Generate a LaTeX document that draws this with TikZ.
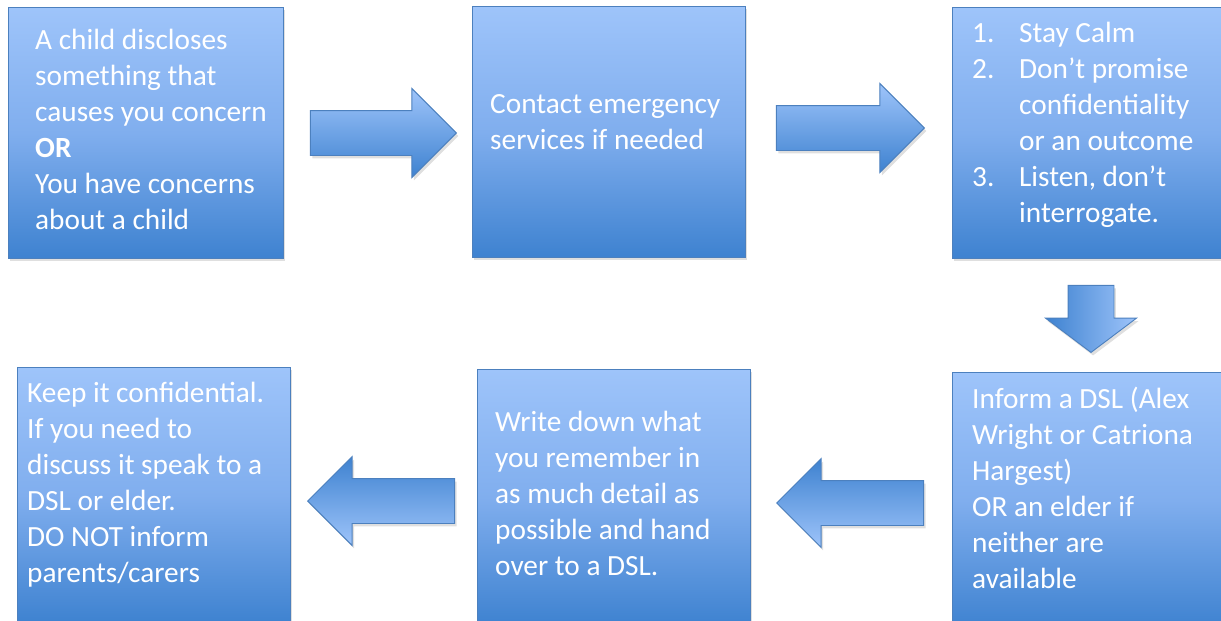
\documentclass[tikz,border=0pt]{standalone}
\usepackage{fontspec}
\setmainfont{Carlito}
\usetikzlibrary{shapes.arrows,shadows,positioning}

\definecolor{boxtop}{RGB}{158,196,250}
\definecolor{boxmid}{RGB}{128,174,238}
\definecolor{boxbot}{RGB}{62,130,208}
\definecolor{boxline}{RGB}{76,128,190}

\tikzset{
  stepbox/.style={draw=boxline, line width=0.9pt, anchor=north west,
    top color=boxtop, bottom color=boxbot, middle color=boxmid,
    minimum width=275pt, minimum height=251pt, inner sep=0pt,
    drop shadow={shadow xshift=2pt, shadow yshift=-3pt, opacity=0.25}},
  % anchored at the baseline of the last line
  steptext/.style={anchor=base west, inner sep=0pt, text=white, align=left,
    font=\fontsize{29.3}{36}\selectfont},
  blockarrow/.style={single arrow, draw=boxline, line width=0.9pt, inner sep=22pt,
    anchor=tip, minimum height=146pt, minimum width=88pt,
    single arrow head extend=22pt,
    drop shadow={shadow xshift=2pt, shadow yshift=-3pt, opacity=0.25}},
  rightarrow/.style={blockarrow, top color=boxtop, bottom color=boxbot},
  leftarrow/.style={blockarrow, shape border rotate=180, top color=boxbot, bottom color=boxtop},
  downarrow/.style={blockarrow, shape border rotate=270, left color=boxbot, right color=boxtop,
    inner sep=22.5pt, minimum height=67pt, minimum width=90pt,
    single arrow head extend=22.5pt, single arrow tip angle=106}
}

\begin{document}
\begin{tikzpicture}[x=1pt,y=-1pt]
  \useasboundingbox (0,0) rectangle (1221,621);

  % the six steps
  \node[stepbox] (disclose)  at (8,7)     {};
  \node[stepbox, minimum width=273pt] (emergency) at (472,6) {};
  \node[stepbox] (calm)      at (952,7)   {};
  \node[stepbox, minimum height=256pt] (inform) at (952,372) {};
  \node[stepbox, minimum width=273pt, minimum height=256pt] (record) at (477,369) {};
  \node[stepbox, minimum width=273pt, minimum height=256pt] (confid) at (17,367) {};

  \node[steptext] (disclose text) at (35,229)
    {A child discloses\\something that\\causes you concern\\\textbf{OR}\\You have concerns\\about a child};
  \node[steptext] (emergency text) at (490,149)
    {Contact emergency\\services if needed};
  \node[steptext] (calm text) at (972,222)
    {\makebox[47pt][l]{1.}Stay Calm\\
     \makebox[47pt][l]{2.}Don’t promise\\
     \hspace*{47pt}confidentiality\\
     \hspace*{47pt}or an outcome\\
     \makebox[47pt][l]{3.}Listen, don’t\\
     \hspace*{47pt}interrogate.};
  \node[steptext] (inform text) at (972,588)
    {Inform a DSL (Alex\\Wright or Catriona\\Hargest)\\OR an elder if\\neither are\\available};
  \node[steptext] (record text) at (495,575)
    {Write down what\\you remember in\\as much detail as\\possible and hand\\over to a DSL.};
  \node[steptext] (confid text) at (27,582)
    {Keep it confidential.\\If you need to\\discuss it speak to a\\DSL or elder.\\DO NOT inform\\parents/carers};

  % block arrows between the steps
  \node[rightarrow] (a1) at (457,133)  {};
  \node[rightarrow, minimum height=148pt] (a2) at (925,128) {};
  \node[downarrow]  (a3) at (1091,353) {};
  \node[leftarrow, minimum height=147pt]  (a4) at (776,503) {};
  \node[leftarrow, minimum height=147pt]  (a5) at (307,501) {};
\end{tikzpicture}
\end{document}
